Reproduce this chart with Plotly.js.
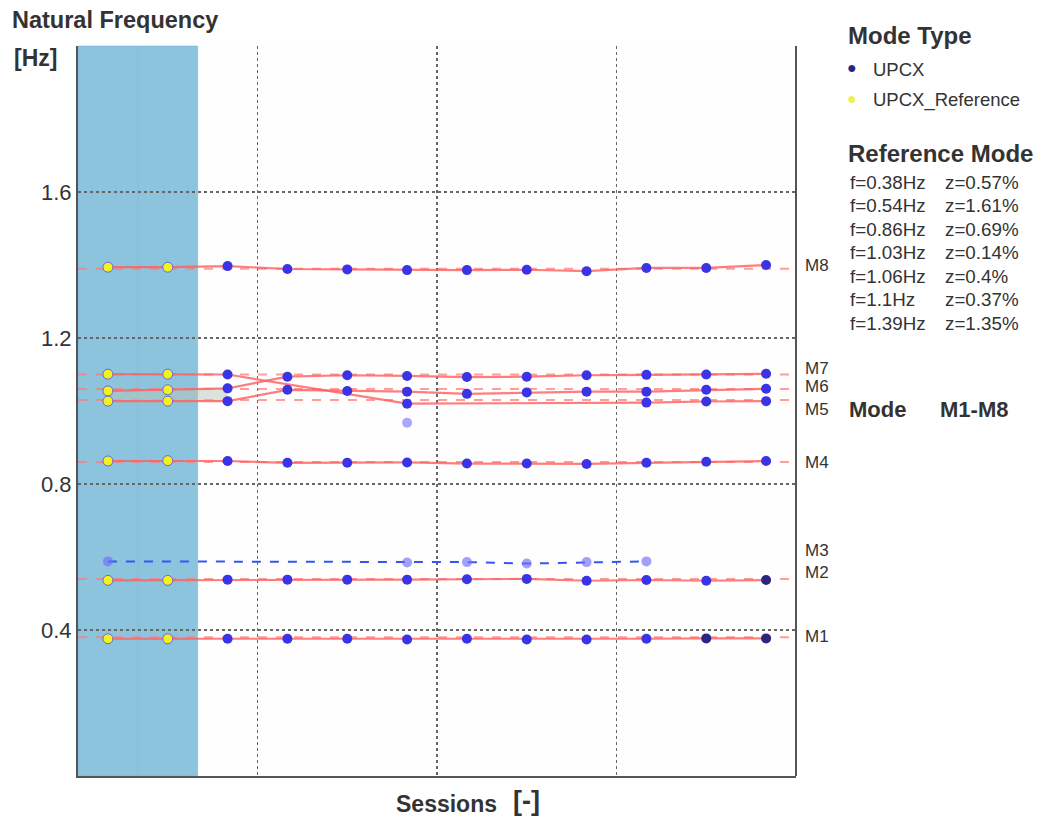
<!DOCTYPE html>
<html>
<head>
<meta charset="utf-8">
<script src="https://cdn.plot.ly/plotly-3.0.1.min.js"></script>
<style>
  html, body { margin: 0; padding: 0; background: #ffffff; }
  #chart { width: 1038px; height: 816px; }
</style>
</head>
<body>
<div id="chart"></div>
<script>
// Sessions along the x axis; the first two are the reference sessions.
const sessions = [0, 1, 2, 3, 4, 5, 6, 7, 8, 9, 10, 11];
const refSessions = [0, 1];

// Identified natural frequencies [Hz] per tracked mode and session (null = not identified).
const modeM1 = [0.376, 0.376, 0.376, 0.376, 0.376, 0.374, 0.376, 0.374, 0.374, 0.376, 0.377, 0.377];
const modeM2 = [0.536, 0.536, 0.538, 0.538, 0.538, 0.538, 0.539, 0.540, 0.535, 0.537, 0.535, 0.537];
const modeM3 = [0.588, null, null, null, null, 0.585, 0.586, 0.582, 0.586, 0.588, null, null];
const modeM4 = [0.863, 0.864, 0.863, 0.858, 0.858, 0.859, 0.856, 0.856, 0.855, 0.858, 0.861, 0.863];
const trackA = [1.101, 1.101, 1.100, null, null, 1.020, null, null, null, 1.023, 1.026, 1.027];
const trackB = [1.055, 1.058, 1.062, 1.094, 1.098, 1.096, 1.093, 1.094, 1.098, 1.099, 1.100, 1.102];
const trackC = [1.027, 1.027, 1.027, 1.058, 1.055, 1.053, 1.047, 1.051, 1.053, 1.053, 1.058, 1.061];
const modeM8 = [1.394, 1.394, 1.397, 1.389, 1.388, 1.386, 1.386, 1.387, 1.383, 1.392, 1.392, 1.400];
const strayX = [5];
const strayY = [0.968];

// Reference modes: frequency [Hz] and damping ratio [%].
const refFreq = [0.38, 0.54, 0.86, 1.03, 1.06, 1.1, 1.39];
const refDamp = [0.57, 1.61, 0.69, 0.14, 0.4, 0.37, 1.35];

// Mode labels on the right edge and the frequency they sit at.
const modeLabels = ['M1', 'M2', 'M3', 'M4', 'M5', 'M6', 'M7', 'M8'];
const modeLabelFreq = [0.38, 0.54, 0.588, 0.86, 1.03, 1.06, 1.1, 1.39];

// Y-axis ticks.
const yTicks = [0.4, 0.8, 1.2, 1.6, 2.0];
const yTickText = ['0.4', '0.8', '1.2', '1.6', ''];
const xGrid = [2.5, 5.5, 8.5];

// ---- styling ----
const FONT = 'Liberation Sans, Arial, sans-serif';
const TXT = '#333333';
const BLUE = '#3a34e6';
const NAVY = '#2a2680';
const YELLOW = '#f2f21e';
const RED = 'rgba(255,96,96,0.82)';
const RED_REF = 'rgba(255,120,120,0.72)';

const W = 1038, H = 816;
const M = { l: 78, r: 242, t: 46, b: 40 };
const PW = W - M.l - M.r, PH = H - M.t - M.b;
const px = x => (x - M.l) / PW;
const py = y => (H - M.b - y) / PH;

// darker markers for a few late-session points
const darkPts = { M1: [10, 11], M2: [11] };

function pointColors(values, darkList) {
  return values.map((v, i) => {
    if (refSessions.includes(sessions[i])) return YELLOW;
    if (darkList && darkList.includes(sessions[i])) return NAVY;
    return BLUE;
  });
}

function modeTrace(values, darkList) {
  return {
    x: sessions, y: values, type: 'scatter', mode: 'lines+markers',
    connectgaps: true, showlegend: false, hoverinfo: 'x+y',
    line: { color: RED, width: 2.2 },
    marker: {
      size: 10, color: pointColors(values, darkList),
      line: { width: 1, color: values.map((v, i) => refSessions.includes(sessions[i]) ? '#6a62e0' : 'rgba(0,0,0,0)') }
    }
  };
}

const nRef = refSessions.length + 1;
const traces = [
  // band between the two close modes over the reference span
  { x: sessions.slice(0, nRef), y: trackC.slice(0, nRef), type: 'scatter', mode: 'lines',
    line: { width: 0, color: 'rgba(0,0,0,0)' }, showlegend: false, hoverinfo: 'skip' },
  { x: sessions.slice(0, nRef), y: trackB.slice(0, nRef), type: 'scatter', mode: 'lines',
    fill: 'tonexty', fillcolor: 'rgba(185,195,185,0.5)',
    line: { width: 0, color: 'rgba(0,0,0,0)' }, showlegend: false, hoverinfo: 'skip' },
  // spurious mode M3
  { x: sessions, y: modeM3, type: 'scatter', mode: 'lines+markers', connectgaps: true,
    showlegend: false, line: { color: '#3557ee', width: 2, dash: 'dash' },
    marker: { size: 10, color: 'rgba(110,110,250,0.65)' } },
  modeTrace(modeM1, darkPts.M1),
  modeTrace(modeM2, darkPts.M2),
  modeTrace(modeM4),
  modeTrace(trackA),
  modeTrace(trackB),
  modeTrace(trackC),
  modeTrace(modeM8),
  { x: strayX, y: strayY, type: 'scatter', mode: 'markers', showlegend: false,
    marker: { size: 10, color: 'rgba(110,110,250,0.6)' } }
];

const shapes = [];
// reference-session background
refSessions.forEach(s => {
  shapes.push({ type: 'rect', xref: 'x', yref: 'paper', x0: s - 0.5, x1: s + 0.5, y0: 0, y1: 1,
    fillcolor: '#8bc4dc', line: { width: 1, color: 'rgba(125,180,230,0.55)' }, layer: 'below' });
});
// reference frequencies
refFreq.forEach(f => {
  shapes.push({ type: 'line', xref: 'paper', yref: 'y', x0: 0, x1: 1, y0: f, y1: f,
    line: { color: RED_REF, width: 2, dash: 'dash' }, layer: 'between' });
});
// right frame edge
shapes.push({ type: 'line', xref: 'paper', yref: 'paper', x0: 1, x1: 1, y0: 0, y1: 1,
  line: { color: '#555555', width: 2 } });

const annotations = [];
const ann = (text, x, y, size, opts) => annotations.push(Object.assign({
  text: text, xref: 'paper', yref: 'paper', x: px(x), y: py(y),
  xanchor: 'left', yanchor: 'middle', showarrow: false,
  font: { family: FONT, size: size, color: TXT }
}, opts || {}));

ann('<b>Natural Frequency</b>', 10, 20, 23.5);
ann('<b>[Hz]</b>', 12, 58, 23);
ann('<b>Sessions</b>', 394, 804, 23);
ann('<b>[-]</b>', 511, 801, 27);

// mode labels at the right edge
const labelShift = [1, 6, 11, 0, -9, 3, 6, 3];
modeLabels.forEach((m, i) => {
  annotations.push({ text: m, xref: 'paper', yref: 'y', x: 1, y: modeLabelFreq[i],
    xanchor: 'left', yanchor: 'middle', xshift: 7, yshift: labelShift[i], showarrow: false,
    font: { family: FONT, size: 17, color: TXT } });
});

// legend block
ann('<b>Mode Type</b>', 846, 36, 24);
ann('●', 845, 68, 16, { font: { family: FONT, size: 16, color: NAVY } });
ann('UPCX', 871, 69, 18.5);
ann('●', 845, 99, 16, { font: { family: FONT, size: 16, color: '#eef05a' } });
ann('UPCX_Reference', 871, 100, 18.5);

// reference mode table
ann('<b>Reference Mode</b>', 846, 153, 24);
refFreq.forEach((f, i) => {
  ann('f=' + f + 'Hz', 848, 182 + i * 23.5, 18.8);
  ann('z=' + refDamp[i] + '%', 943, 182 + i * 23.5, 18.8);
});
ann('<b>Mode</b>', 847, 410, 22);
ann('<b>M1-M8</b>', 938, 410, 22);

const layout = {
  width: W, height: H,
  margin: M,
  paper_bgcolor: '#ffffff', plot_bgcolor: '#fefefe',
  showlegend: false,
  font: { family: FONT, color: TXT },
  xaxis: {
    range: [-0.5, 11.5], tickvals: xGrid, showticklabels: false, ticks: '',
    showgrid: true, gridcolor: '#666666', griddash: 'dot', gridwidth: 1.4,
    zeroline: false, showline: true, linecolor: '#555555', linewidth: 2
  },
  yaxis: {
    range: [0, 2], tickvals: yTicks, ticktext: yTickText, ticks: '',
    tickfont: { family: FONT, size: 22, color: TXT },
    showgrid: true, gridcolor: '#666666', griddash: 'dot', gridwidth: 1.4,
    zeroline: false, showline: true, linecolor: '#555555', linewidth: 2,
    ticklabelstandoff: 0
  },
  shapes: shapes,
  annotations: annotations
};

Plotly.newPlot('chart', traces, layout, { displayModeBar: false, staticPlot: true });
</script>
</body>
</html>
